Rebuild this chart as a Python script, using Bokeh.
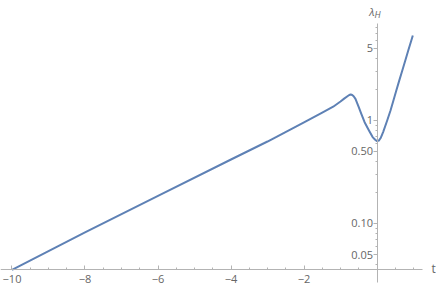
from bokeh.plotting import figure
from bokeh.models import FixedTicker, Range1d, Label
from bokeh.embed import file_html
from bokeh.resources import INLINE

# curve data (t, lambda_H)
t_vals = [-10.0, -8.0, -6.0, -4.0, -3.0, -2.0, -1.5, -1.2, -1.0, -0.9, -0.8, -0.76, -0.72,
          -0.68, -0.64, -0.59, -0.5, -0.43, -0.34, -0.22, -0.12, -0.05, 0.0, 0.05, 0.1,
          0.17, 0.279, 0.37, 0.444, 0.529, 0.611, 0.693, 0.775, 0.858, 0.94, 0.981]
lam_vals = [0.0355, 0.0818, 0.185, 0.418, 0.625, 0.957, 1.19, 1.36, 1.53, 1.63, 1.73, 1.77, 1.79,
            1.77, 1.72, 1.62, 1.35, 1.16, 0.963, 0.80, 0.69, 0.65, 0.631, 0.638, 0.676,
            0.776, 1.0, 1.25, 1.54, 1.956, 2.45, 3.06, 3.83, 4.80, 5.99, 6.69]

x_major_ticks = [-10, -8, -6, -4, -2]
x_tick_labels = ["\u221210", "\u22128", "\u22126", "\u22124", "\u22122"]
x_minor_ticks = [-10.0, -9.5, -9.0, -8.5, -8.0, -7.5, -7.0, -6.5, -6.0, -5.5, -5.0, -4.5,
                 -4.0, -3.5, -3.0, -2.5, -2.0, -1.5, -1.0, -0.5, 0.5, 1.0]
y_major_ticks = [0.05, 0.1, 0.5, 1, 5]
y_tick_labels = ["0.05", "0.10", "0.50", "1", "5"]
y_minor_ticks = [0.04, 0.06, 0.07, 0.08, 0.09, 0.2, 0.3, 0.4, 0.6, 0.7, 0.8, 0.9,
                 2, 3, 4, 6, 7, 8]

x_axis_at = 0.03552
y_axis_at = 0.0
x_axis_bounds = (-10.4, 1.245)
y_axis_bounds = (0.0265, 8.8)

AXIS = "#b3b3b3"
LABEL = "#666666"
LINE = "#5E81B5"
FONT = "Open Sans"

p = figure(width=436, height=290, y_axis_type="log",
           x_range=Range1d(-10.315, 1.630), y_range=Range1d(0.02236, 14.62),
           toolbar_location=None, output_backend="svg",
           min_border_left=0, min_border_right=0, min_border_top=0, min_border_bottom=0)
p.outline_line_color = None
p.xgrid.visible = False
p.ygrid.visible = False
p.background_fill_color = "white"
p.border_fill_color = "white"

p.line(t_vals, lam_vals, line_color=LINE, line_width=2, line_join="round")

xa = p.xaxis[0]
xa.fixed_location = x_axis_at
xa.bounds = x_axis_bounds
xa.ticker = FixedTicker(ticks=x_major_ticks, minor_ticks=x_minor_ticks)
xa.major_label_overrides = {k: v for k, v in zip(x_major_ticks, x_tick_labels)}
xa.major_tick_in = 4
xa.major_tick_out = 0
xa.minor_tick_in = 2
xa.minor_tick_out = 0
xa.major_label_standoff = 5

ya = p.yaxis[0]
ya.fixed_location = y_axis_at
ya.bounds = y_axis_bounds
ya.ticker = FixedTicker(ticks=y_major_ticks, minor_ticks=y_minor_ticks)
ya.major_label_overrides = {k: v for k, v in zip(y_major_ticks, y_tick_labels)}
ya.major_tick_in = 0
ya.major_tick_out = 4
ya.minor_tick_in = 0
ya.minor_tick_out = 2
ya.major_label_standoff = 0

for ax in (xa, ya):
    ax.axis_line_color = AXIS
    ax.major_tick_line_color = AXIS
    ax.minor_tick_line_color = AXIS
    ax.major_label_text_color = LABEL
    ax.major_label_text_font = FONT
    ax.major_label_text_font_size = "11px"

p.add_layout(Label(x=1.245, y=x_axis_at, x_offset=9, y_offset=1, text="t", text_align="left",
                   text_baseline="middle", text_font=FONT, text_font_size="12px",
                   text_color=LABEL))
p.add_layout(Label(x=0, y=11.51, x_offset=-2.5, text="\u03bb", text_align="right",
                   text_baseline="alphabetic", text_font=FONT, text_font_size="11px",
                   text_font_style="italic", text_color=LABEL))
p.add_layout(Label(x=0, y=10.70, x_offset=-2.5, text="H", text_align="left",
                   text_baseline="alphabetic", text_font=FONT, text_font_size="9px",
                   text_font_style="italic", text_color=LABEL))

open("out.html", "w").write(file_html(p, INLINE))
